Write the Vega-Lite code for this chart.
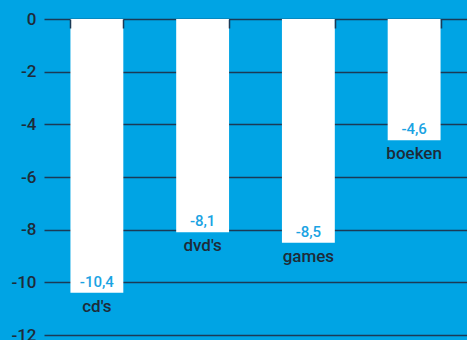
{
  "$schema": "https://vega.github.io/schema/vega-lite/v6.json",
  "width": 423,
  "height": 316,
  "autosize": {"type": "none"},
  "padding": {"left": 44, "top": 19, "right": 0, "bottom": 5},
  "background": "#00A4E4",
  "config": {
    "view": {"stroke": null},
    "font": "Roboto",
    "locale": {
      "number": {"decimal": ",", "thousands": ".", "grouping": [3], "currency": ["", " €"], "minus": "-"}
    }
  },
  "data": {
    "values": [
      {"cat": "cd's", "value": -10.4},
      {"cat": "dvd's", "value": -8.1},
      {"cat": "games", "value": -8.5},
      {"cat": "boeken", "value": -4.6}
    ]
  },
  "encoding": {
    "x": {
      "field": "cat",
      "type": "nominal",
      "sort": null,
      "scale": {"paddingInner": 0.5, "paddingOuter": 0.25},
      "axis": {
        "orient": "top",
        "title": null,
        "labels": false,
        "ticks": true,
        "tickBand": "extent",
        "offset": -9,
        "tickSize": 9,
        "tickColor": "#1B3A56",
        "tickWidth": 1.5,
        "tickOpacity": 1,
        "domain": false,
        "grid": false,
        "zindex": 1
      }
    },
    "y": {
      "field": "value",
      "type": "quantitative",
      "scale": {"domain": [-12, 0], "nice": false},
      "axis": {
        "title": null,
        "values": [0, -2, -4, -6, -8, -10, -12],
        "format": "d",
        "domain": false,
        "ticks": false,
        "labelPadding": 8,
        "labelFontSize": 17,
        "labelFontWeight": 500,
        "labelColor": "#1E2B38",
        "gridColor": "#1B3A56",
        "gridWidth": 1.5,
        "gridOpacity": 1
      }
    }
  },
  "layer": [
    {"mark": {"type": "bar", "color": "#FFFFFF"}},
    {
      "mark": {"type": "text", "dy": -11, "baseline": "middle", "fontSize": 15, "fontWeight": 500, "color": "#1AA3E3"},
      "encoding": {"text": {"field": "value", "type": "quantitative", "format": ".1f"}}
    },
    {
      "mark": {"type": "text", "dy": 14, "baseline": "middle", "fontSize": 17, "fontWeight": 500, "color": "#1E2B38"},
      "encoding": {"text": {"field": "cat", "type": "nominal"}}
    }
  ]
}
